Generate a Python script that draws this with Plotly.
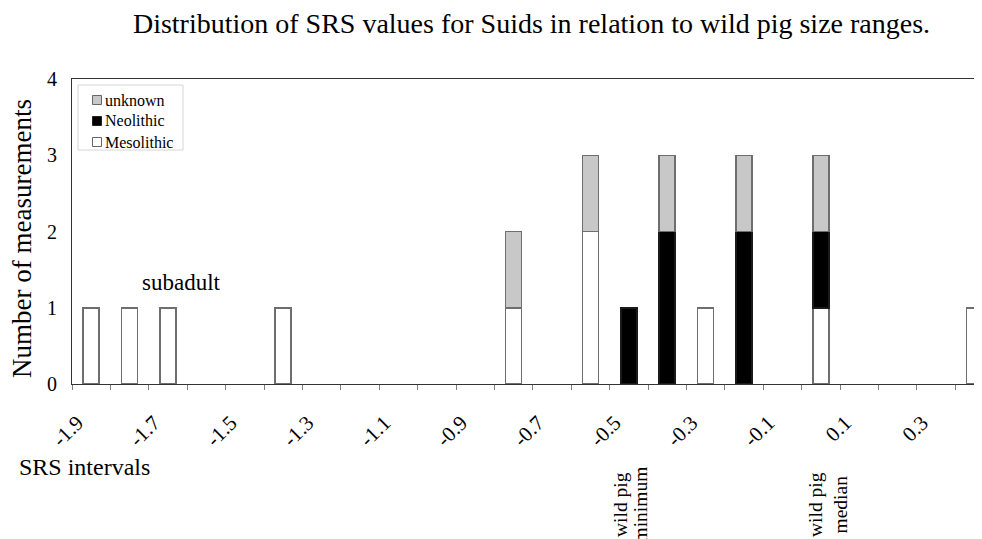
import plotly.graph_objects as go

# SRS interval categories (step 0.1)
categories = ["-1.9", "-1.8", "-1.7", "-1.6", "-1.5", "-1.4", "-1.3", "-1.2",
              "-1.1", "-1.0", "-0.9", "-0.8", "-0.7", "-0.6", "-0.5", "-0.4",
              "-0.3", "-0.2", "-0.1", "0.0", "0.1", "0.2", "0.3", "0.4"]
mesolithic = [1, 1, 1, 0, 0, 1, 0, 0, 0, 0, 0, 1, 0, 2, 0, 0, 1, 0, 0, 1, 0, 0, 0, 1]
neolithic  = [0, 0, 0, 0, 0, 0, 0, 0, 0, 0, 0, 0, 0, 0, 1, 2, 0, 2, 0, 1, 0, 0, 0, 0]
unknown    = [0, 0, 0, 0, 0, 0, 0, 0, 0, 0, 0, 1, 0, 1, 0, 1, 0, 1, 0, 1, 0, 0, 0, 0]
series_names = ["Mesolithic", "Neolithic", "unknown"]
tick_labels = [c if i % 2 == 0 else "" for i, c in enumerate(categories)]

FONT = "Liberation Serif, Times New Roman, serif"
EDGE = "#6e6e6e"
fills = ["white", "black", "#c8c8c8"]
edges = [EDGE, "#1a1a1a", EDGE]

fig = go.Figure()
for name, vals, fc, ec in zip(series_names, [mesolithic, neolithic, unknown], fills, edges):
    fig.add_trace(go.Bar(x=categories, y=[v if v else None for v in vals], name=name,
                         marker=dict(color=fc, line=dict(color=ec, width=1.5)),
                         showlegend=False))

# page offset (body margin) compensation
O = 8
W, H = 982 - O, 539 - O
L, T = 72 - O, 79 - O
B = H - (384 - O)
pw = W - L
ph = H - T - B

def px(xp):
    return (xp - 72) / pw

def py(yp):
    return (384 - yp) / ph

shapes = []
annotations = []
# legend box
shapes.append(dict(type="rect", xref="paper", yref="paper",
                   x0=px(78), x1=px(183), y0=py(85), y1=py(150),
                   line=dict(color="#d6d6d6", width=1), fillcolor="white", layer="above"))
rows = [(100, 2), (121, 1), (142, 0)]  # (y centre, series index)
for yc, si in rows:
    shapes.append(dict(type="rect", xref="paper", yref="paper",
                       x0=px(92.5), x1=px(101.5), y0=py(yc + 4.5), y1=py(yc - 4.5),
                       line=dict(color=("#222222" if si == 1 else "#666666"), width=1),
                       fillcolor=fills[si], layer="above"))
    annotations.append(dict(text=series_names[si], xref="paper", yref="paper",
                            x=px(103), y=py(yc), xanchor="left", yanchor="middle",
                            showarrow=False, font=dict(size=16, family=FONT, color="black")))

def vtext(t, xc, yc=505, size=19.5):
    return dict(text=t, textangle=-90, xref="paper", yref="paper",
                x=px(xc), y=py(yc), xanchor="center", yanchor="middle", showarrow=False,
                font=dict(size=size, family=FONT, color="black"))

annotations += [
    dict(text="Number of measurements", textangle=-90, xref="paper", yref="paper",
         x=px(22), y=py(239), xanchor="center", yanchor="middle", showarrow=False,
         font=dict(size=27, family=FONT, color="black")),
    dict(text="subadult", xref="paper", yref="paper", x=px(181), y=py(282),
         xanchor="center", yanchor="middle", showarrow=False,
         font=dict(size=23, family=FONT, color="black")),
    dict(text="SRS intervals", xref="paper", yref="paper", x=px(17), y=py(467),
         xanchor="left", yanchor="middle", showarrow=False,
         font=dict(size=24, family=FONT, color="black")),
    vtext("wild pig", 620),
    vtext("minimum", 639.5),
    vtext("wild pig", 815),
    vtext("median", 839.5),
]

fig.update_layout(
    width=W, height=H,
    barmode="stack", bargap=0.583,
    margin=dict(l=L, r=0, t=T, b=B, pad=0),
    paper_bgcolor="white", plot_bgcolor="white",
    font=dict(family=FONT, color="black"),
    showlegend=False,
    title=dict(text="Distribution of SRS values for Suids in relation to wild pig size ranges.",
               x=(531.5 - O) / W, xref="container", xanchor="center",
               y=1 - (23 - O) / H, yref="container", yanchor="middle",
               font=dict(size=28, family=FONT, color="black")),
    xaxis=dict(type="category", categoryorder="array", categoryarray=categories,
               range=[-0.5, -0.5 + pw / 38.4],
               tickmode="array", tickvals=categories, ticktext=tick_labels,
               tickson="boundaries", ticks="outside", ticklen=5, tickcolor="#808080",
               tickangle=-45, tickfont=dict(size=21, family=FONT, color="black"),
               ticklabelshift=-14, ticklabelstandoff=17,
               showline=True, linecolor="#333333", linewidth=1.2, mirror=True,
               showgrid=False, zeroline=False),
    yaxis=dict(range=[0, 4], tickvals=[0, 1, 2, 3, 4], ticks="",
               tickfont=dict(size=20, family=FONT, color="black"),
               ticklabelstandoff=10,
               showline=True, linecolor="#333333", linewidth=1.2,
               showgrid=False, zeroline=False),
    shapes=shapes,
    annotations=annotations,
)

fig.write_html("out.html")
